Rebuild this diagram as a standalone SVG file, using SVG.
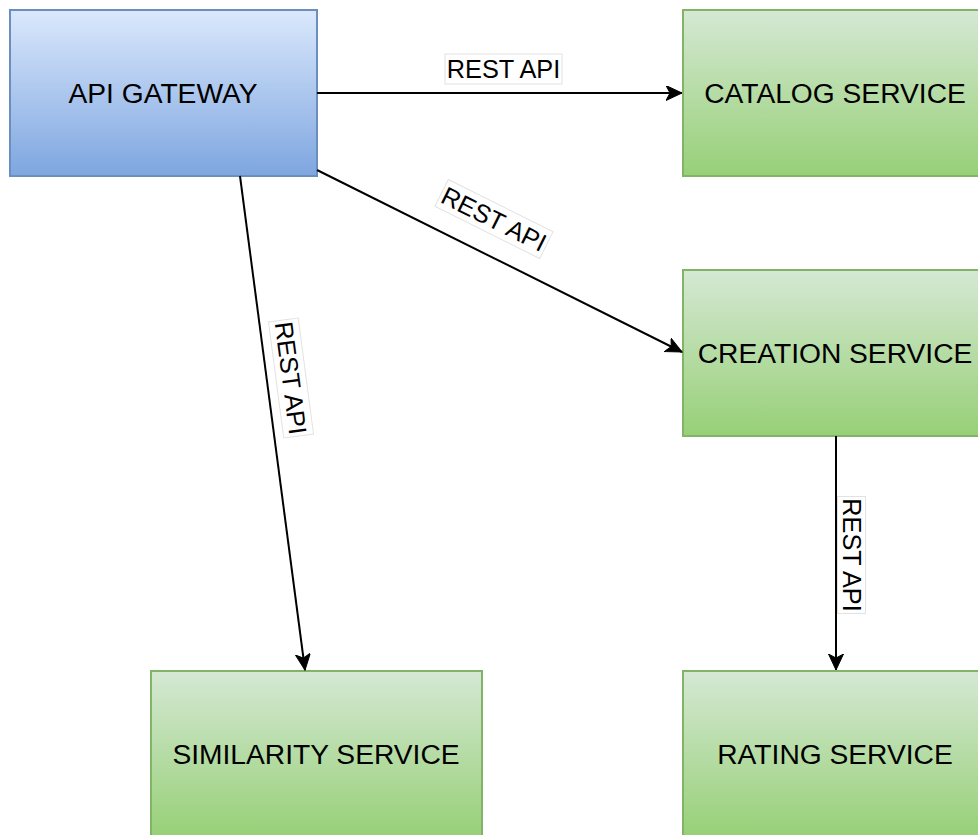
<svg xmlns="http://www.w3.org/2000/svg" width="978" height="835" viewBox="0 0 978 835">
<style>
.node-text{font-family:"Liberation Sans",Arial,Helvetica,sans-serif;font-size:28.2px;fill:#000;text-anchor:middle}
.lbl-text{font-family:"Liberation Sans",Arial,Helvetica,sans-serif;font-size:25.3px;fill:#000;text-anchor:middle}
.lbl-bg{fill:#fff;stroke:#e2e2e2;stroke-width:1}
.edge{fill:none;stroke:#000;stroke-width:2;marker-end:url(#arrow)}
.blue{fill:url(#gBlue);stroke:#6c8ebf;stroke-width:2}
.green{fill:url(#gGreen);stroke:#82b366;stroke-width:2}
</style>
<defs>
<linearGradient id="gBlue" x1="0" y1="0" x2="0" y2="1">
<stop offset="0" stop-color="#dae8fc"/>
<stop offset="1" stop-color="#7ea6e0"/>
</linearGradient>
<linearGradient id="gGreen" x1="0" y1="0" x2="0" y2="1">
<stop offset="0" stop-color="#d5e8d4"/>
<stop offset="1" stop-color="#97d077"/>
</linearGradient>
<marker id="arrow" markerUnits="userSpaceOnUse" markerWidth="20" markerHeight="20" refX="16" refY="7.5" orient="auto" viewBox="0 0 20 20">
<path d="M0,0 L16,7.5 L0,15 L4,7.5 Z" fill="#000" stroke="#000" stroke-width="1"/>
</marker>
</defs>
<rect width="978" height="835" fill="#fff"/>
<g id="api-gateway">
<rect class="blue" x="10" y="10" width="307" height="166"/>
<text class="node-text" x="163" y="103">API GATEWAY</text>
</g>
<g id="catalog-service">
<rect class="green" x="683" y="10" width="304" height="166"/>
<text class="node-text" x="835" y="103">CATALOG SERVICE</text>
</g>
<g id="creation-service">
<rect class="green" x="683" y="270" width="304" height="166"/>
<text class="node-text" x="835" y="363">CREATION SERVICE</text>
</g>
<g id="similarity-service">
<rect class="green" x="151" y="671" width="331" height="166"/>
<text class="node-text" x="316" y="764">SIMILARITY SERVICE</text>
</g>
<g id="rating-service">
<rect class="green" x="683" y="671" width="304" height="166"/>
<text class="node-text" x="835" y="764">RATING SERVICE</text>
</g>
<g id="connectors">
<path class="edge" d="M317,93 L682,93"/>
<path class="edge" d="M317,170 L682,352"/>
<path class="edge" d="M240,176 L305,670"/>
<path class="edge" d="M836,436 L836,670"/>
<g transform="translate(503.5,69)">
<rect class="lbl-bg" x="-58.5" y="-15" width="117" height="30"/>
<text class="lbl-text" x="0" y="9">REST API</text>
</g>
<g transform="translate(494,219) rotate(26.5)">
<rect class="lbl-bg" x="-58.5" y="-15" width="117" height="30"/>
<text class="lbl-text" x="0" y="9">REST API</text>
</g>
<g transform="translate(291,378) rotate(82.5)">
<rect class="lbl-bg" x="-58.5" y="-15" width="117" height="30"/>
<text class="lbl-text" x="0" y="9">REST API</text>
</g>
<g transform="translate(851.5,555) rotate(90)">
<rect class="lbl-bg" x="-58.5" y="-14" width="117" height="28"/>
<text class="lbl-text" x="0" y="9">REST API</text>
</g>
</g>
</svg>
